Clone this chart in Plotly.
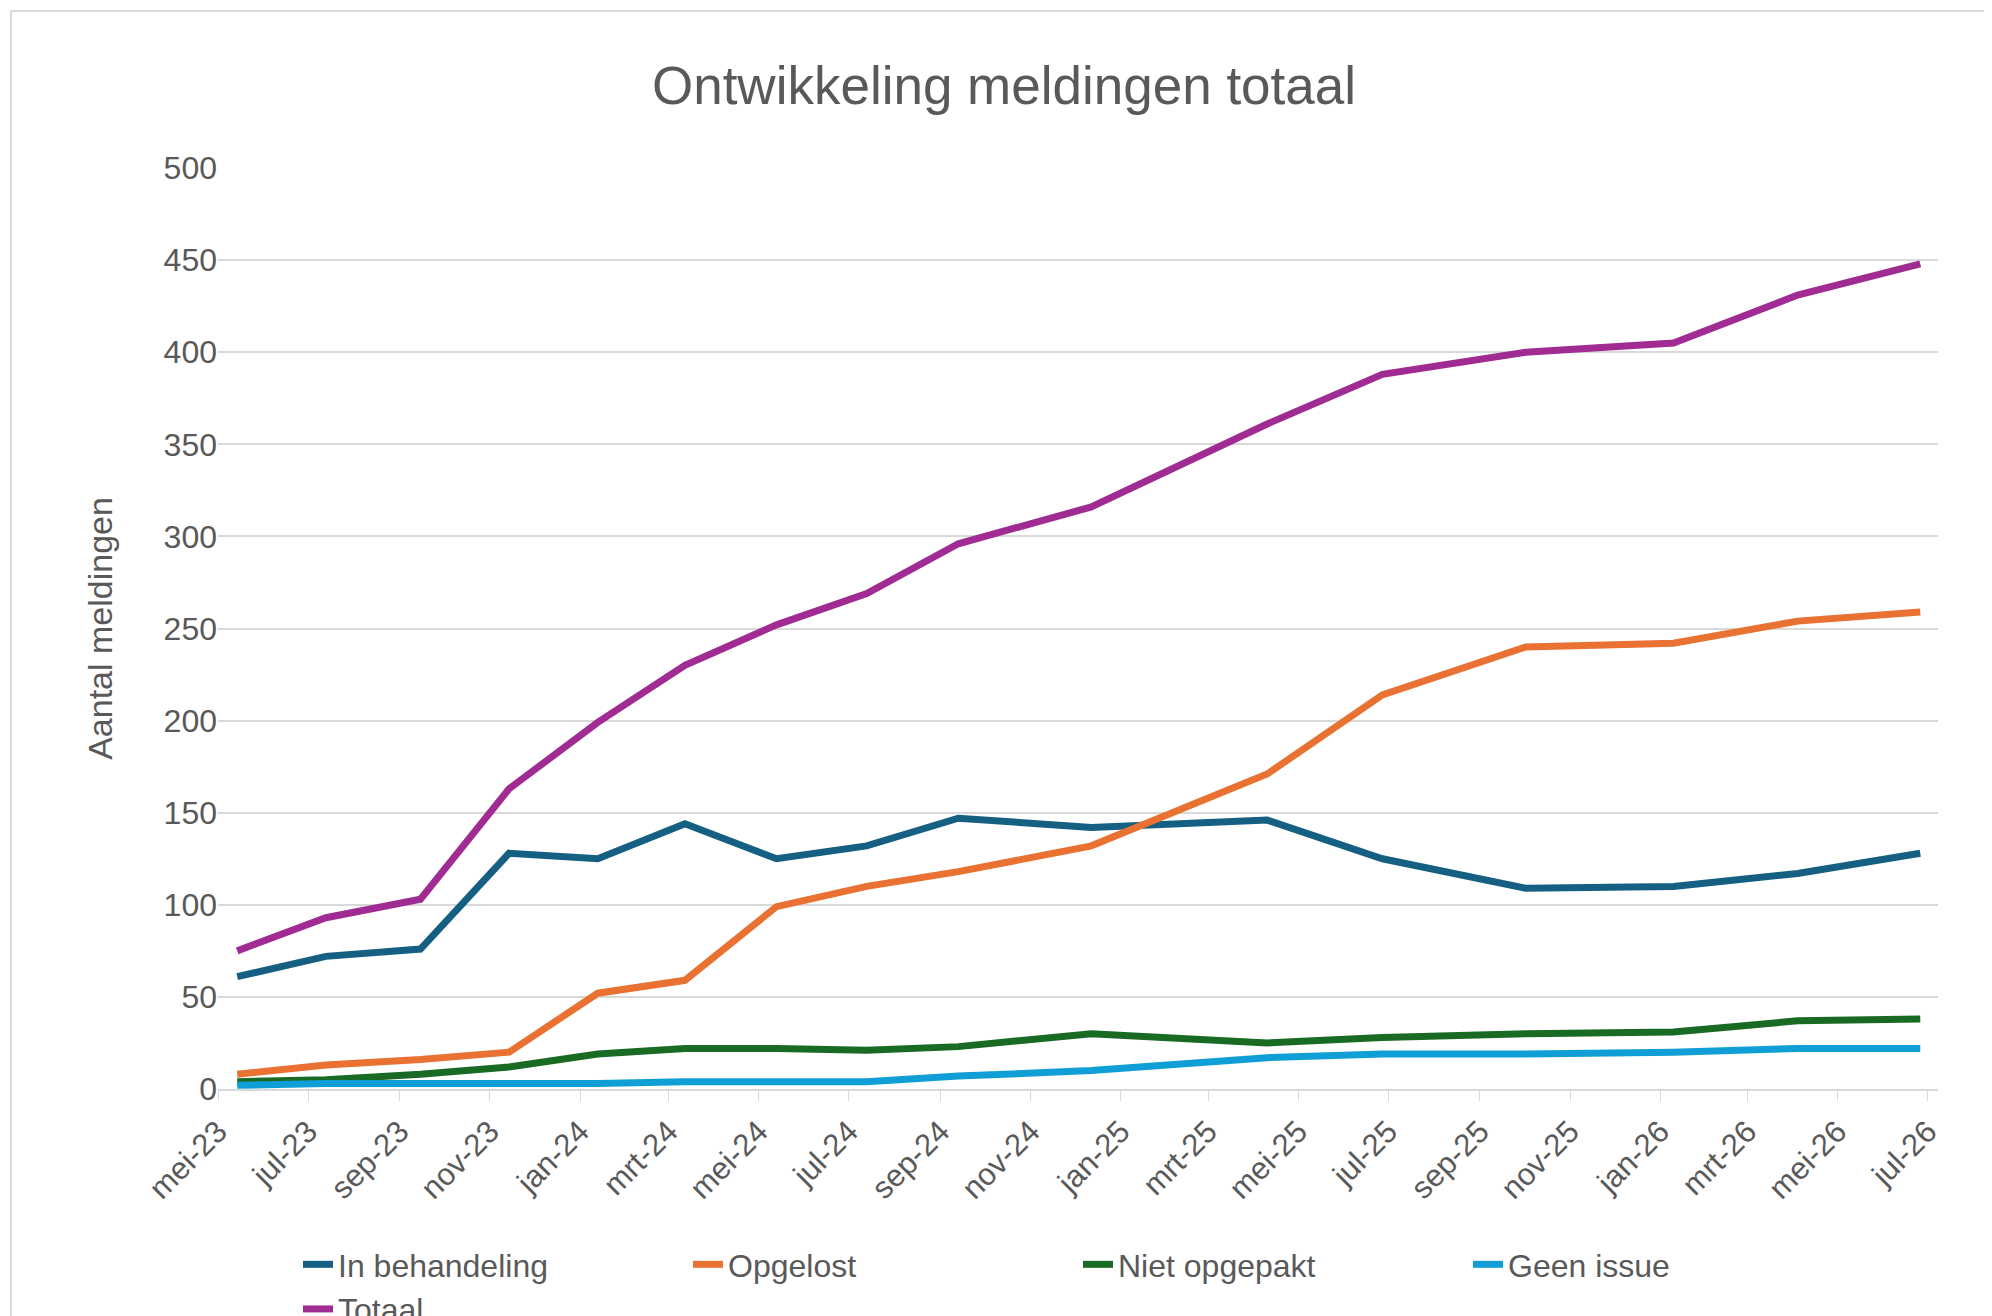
import plotly.graph_objects as go

dates = ["2023-05-14","2023-07-13","2023-09-15","2023-11-14","2024-01-13","2024-03-12",
         "2024-05-13","2024-07-13","2024-09-13","2024-12-12","2025-04-10","2025-06-27",
         "2025-10-02","2026-01-10","2026-04-04","2026-06-26"]
in_behandeling = [61,72,76,128,125,144,125,132,147,142,146,125,109,110,117,128]
opgelost = [8,13,16,20,52,59,99,110,118,132,171,214,240,242,254,259]
niet_opgepakt = [4,5,8,12,19,22,22,21,23,30,25,28,30,31,37,38]
geen_issue = [2,3,3,3,3,4,4,4,7,10,17,19,19,20,22,22]
totaal = [75,93,103,163,199,230,252,269,296,316,361,388,400,405,431,448]

tick_vals = ["2023-05-01","2023-07-01","2023-09-01","2023-11-01","2024-01-01","2024-03-01",
             "2024-05-01","2024-07-01","2024-09-01","2024-11-01","2025-01-01","2025-03-01",
             "2025-05-01","2025-07-01","2025-09-01","2025-11-01","2026-01-01","2026-03-01",
             "2026-05-01","2026-07-01"]
tick_text = ["mei-23","jul-23","sep-23","nov-23","jan-24","mrt-24","mei-24","jul-24","sep-24",
             "nov-24","jan-25","mrt-25","mei-25","jul-25","sep-25","nov-25","jan-26","mrt-26",
             "mei-26","jul-26"]

series = [("In behandeling", in_behandeling, "#156082"),
          ("Opgelost", opgelost, "#E97132"),
          ("Niet opgepakt", niet_opgepakt, "#196B24"),
          ("Geen issue", geen_issue, "#0F9ED5"),
          ("Totaal", totaal, "#A02B93")]

fig = go.Figure()
for name, vals, col in series:
    fig.add_trace(go.Scatter(x=dates, y=vals, name=name, mode="lines",
                             line=dict(color=col, width=7)))

L, R, T, B = 210, 62, 160, 235
pw, ph = 1992 - L - R, 1316 - T - B

fig.update_layout(
    width=1992, height=1316, paper_bgcolor="white", plot_bgcolor="white",
    font=dict(family="Liberation Sans, Arial", color="#595959", size=32),
    title=dict(text="Ontwikkeling meldingen totaal", x=0.5, y=0.955, xanchor="center",
               font=dict(size=53, color="#595959")),
    margin=dict(l=L, r=R, t=T, b=B, autoexpand=False),
    legend=dict(orientation="h", x=0.5, xanchor="center", y=-0.215, yanchor="middle",
                font=dict(size=32), entrywidth=345, entrywidthmode="pixels", traceorder="normal"),
    xaxis=dict(type="date", range=["2023-05-01","2026-07-08"], tickvals=tick_vals,
               ticktext=tick_text, tickangle=-45, showgrid=False, showline=True,
               linecolor="#D9D9D9", linewidth=2, ticks="outside", tickcolor="#D9D9D9",
               ticklen=10, tickfont=dict(size=31)),
    yaxis=dict(range=[0, 500], dtick=50, showgrid=True, gridcolor="#D9D9D9", gridwidth=2,
               zeroline=False, title=dict(text="Aantal meldingen", font=dict(size=34), standoff=40),
               tickfont=dict(size=32)),
    shapes=[dict(type="rect", xref="paper", yref="paper",
                 x0=-(L - 3) / pw, x1=1 + (R - 3) / pw,
                 y0=-(B - 3) / ph, y1=1 + (T - 3) / ph,
                 line=dict(color="#D9D9D9", width=2))]
)
fig.write_html("out.html")
